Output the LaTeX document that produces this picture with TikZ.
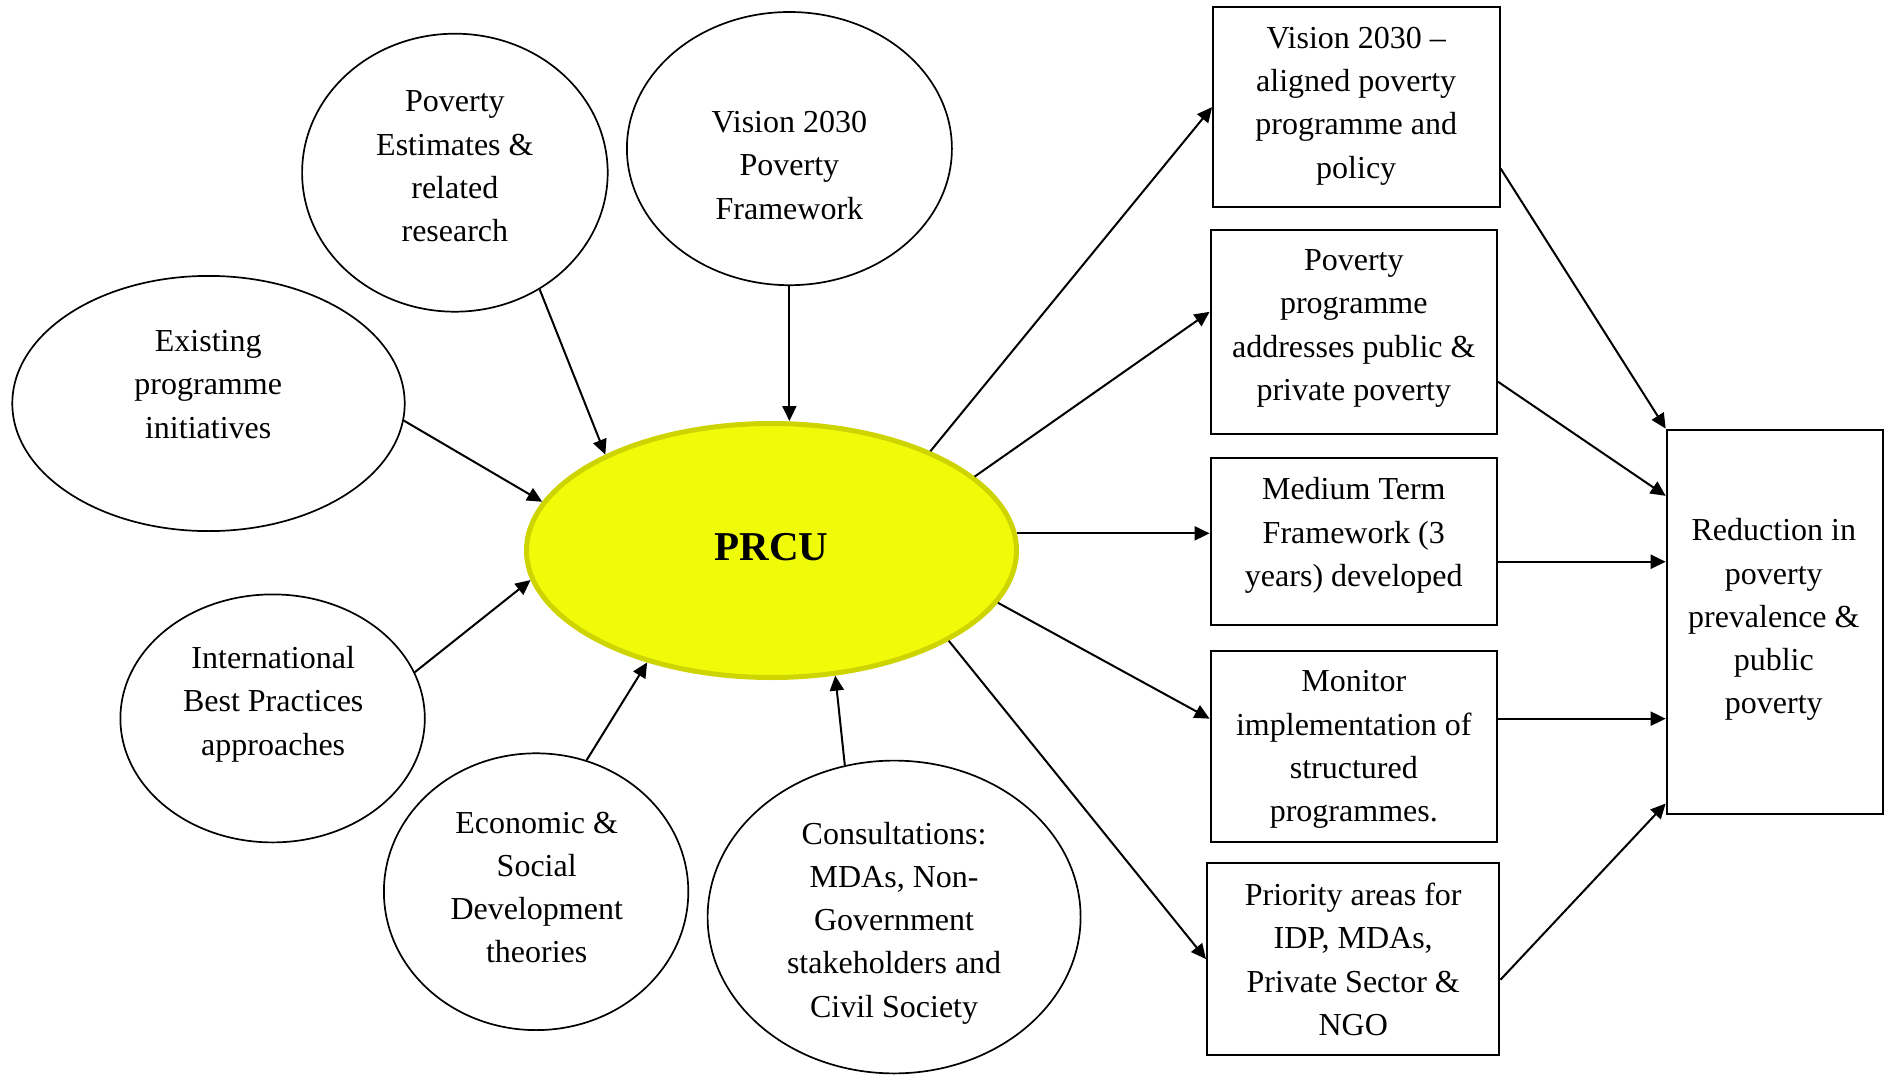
\documentclass[tikz,border=0pt]{standalone}
\usepackage{fontspec}
\setmainfont{Liberation Serif}
\usetikzlibrary{arrows.meta,shapes.geometric}
\definecolor{prcufill}{RGB}{240,251,10}
\definecolor{prculine}{RGB}{206,212,0}
\begin{document}
\begin{tikzpicture}[x=1pt,y=-1pt,
  oval/.style={draw=black,line width=1.7pt,ellipse,inner sep=0pt},
  boxnode/.style={draw=black,line width=2pt,rectangle,inner sep=0pt},
  txt/.style={align=center,inner sep=0pt,font=\fontsize{32}{43.3}\selectfont},
  arr/.style={line width=2pt,-{Triangle[length=15pt,width=14pt]}}]
\fill[white] (0,0) rectangle (1887,1075);
\useasboundingbox (0,0) rectangle (1887,1075);

% ellipses
\node[oval,minimum width=392.4pt,minimum height=255.2pt] (exist) at (208.5,403.5) {};
\node[txt] (exist-t) at (208.2,384.5) {Existing\\programme\\initiatives};

\node[oval,minimum width=305.6pt,minimum height=278pt] (povest) at (454.9,172.7) {};
\node[txt] (povest-t) at (454.9,166.5) {Poverty\\Estimates \&\\related\\research};

\node[oval,minimum width=325pt,minimum height=273.2pt] (vision) at (789.4,148.6) {};
\node[txt] (vision-t) at (789.4,165.5) {Vision 2030\\Poverty\\Framework};

\node[oval,minimum width=304.4pt,minimum height=248pt] (intl) at (272.6,718.4) {};
\node[txt] (intl-t) at (273.2,704) {International\\Best Practices\\approaches};

\node[oval,minimum width=304.4pt,minimum height=276.8pt] (econ) at (536.1,891.7) {};
\node[txt] (econ-t) at (536.7,887.5) {Economic \&\\Social\\Development\\theories};

\node[oval,minimum width=373pt,minimum height=312.8pt] (consult) at (894.1,917) {};
\node[txt] (consult-t) at (894.1,923) {Consultations:\\MDAs, Non-\\Government\\stakeholders and\\Civil Society};

% centre
\node[ellipse,draw=prculine,fill=prcufill,line width=5pt,inner sep=0pt,
      minimum width=490pt,minimum height=254pt] (prcu) at (771.5,550.5) {};
\node[inner sep=0pt,font=\bfseries\fontsize{41}{48}\selectfont] (prcu-t) at (771.4,547) {PRCU};

% boxes
\node[boxnode,minimum width=286.4pt,minimum height=199.8pt] (b1) at (1356.3,107.1) {};
\node[txt] (b1-t) at (1356.2,106) {Vision 2030 –\\aligned poverty\\programme and\\policy};

\node[boxnode,minimum width=286.4pt,minimum height=204.6pt] (b2) at (1353.8,332.1) {};
\node[txt] (b2-t) at (1353.8,328.5) {Poverty\\programme\\addresses public \&\\private poverty};

\node[boxnode,minimum width=286.4pt,minimum height=166.1pt] (b3) at (1353.8,541.5) {};
\node[txt] (b3-t) at (1353.8,535.5) {Medium Term\\Framework (3\\years) developed};

\node[boxnode,minimum width=286.4pt,minimum height=191.3pt] (b4) at (1353.8,746.7) {};
\node[txt] (b4-t) at (1353.8,749.7) {Monitor\\implementation of\\structured\\programmes.};

\node[boxnode,minimum width=292.4pt,minimum height=192.6pt] (b5) at (1353.2,959.1) {};
\node[txt] (b5-t) at (1353.2,959.5) {Priority areas for\\IDP, MDAs,\\Private Sector \&\\NGO};

\node[boxnode,minimum width=216.6pt,minimum height=383.9pt] (right) at (1775,621.6) {};
\node[txt] (right-t) at (1773.8,619.7) {Reduction in\\poverty\\prevalence \&\\public\\poverty};

% arrows into PRCU
\draw[arr] (exist.-5.6) -- (prcu.168.7);
\draw[arr] (povest.-54.6) -- (prcu.150.8);
\draw[arr] (vision.south) -- (vision.south |- prcu.north);
\draw[arr] (intl.18.8) -- (prcu.187.2);
\draw[arr] (econ.69.3) -- (prcu.222.6);
\draw[arr] (consult.108.8) -- (prcu.-63.9);

% arrows out of PRCU
\draw[arr] (prcu.32.8) -- (b1.west);
\draw[arr] (prcu.20.2) -- (b2.172.8);
\draw[arr] (prcu.4.6) -- (prcu.4.6 -| b3.west);
\draw[arr] (prcu.-13.7) -- (b4.169.7);
\draw[arr] (prcu.-27.3) -- (b5.west);

% arrows to result
\draw[arr] (b1.-23.2) -- (right.north west);
\draw[arr] (b2.-19.5) -- (right.131.6);
\draw[arr] (b3.-8.6) -- (b3.-8.6 -| right.west);
\draw[arr] (b4.11.2) -- (b4.11.2 -| right.west);
\draw[arr] (b5.-8.4) -- (right.239.3);
\end{tikzpicture}
\end{document}
